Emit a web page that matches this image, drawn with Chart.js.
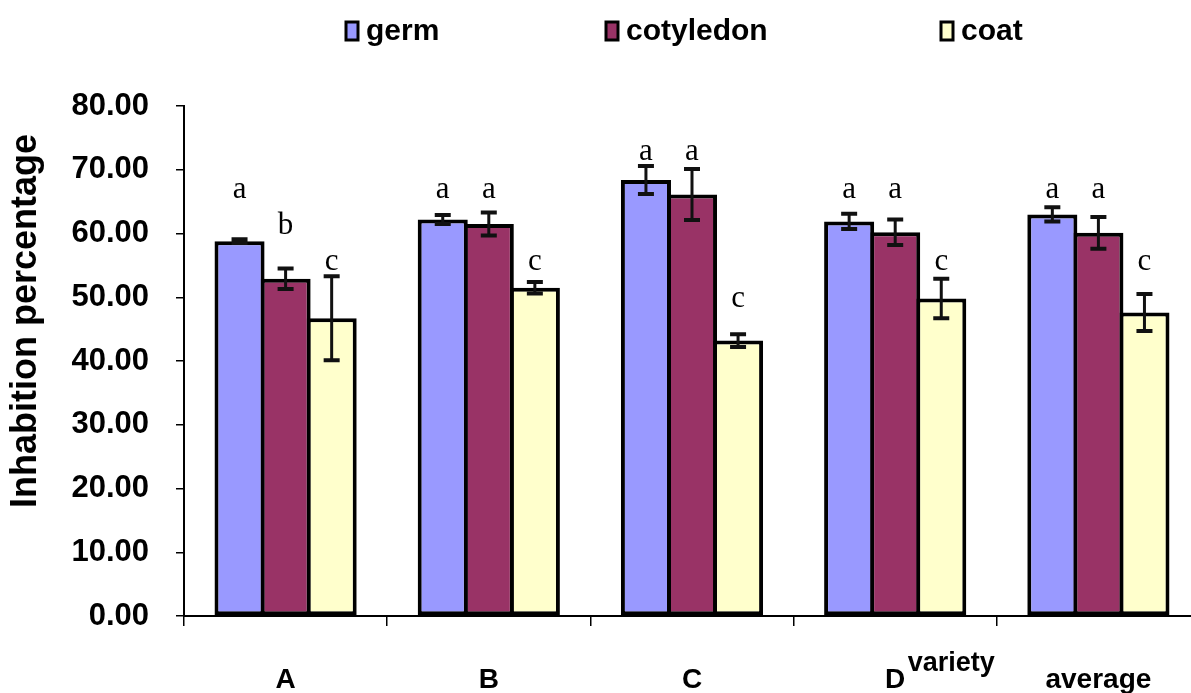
<!DOCTYPE html>
<html>
<head>
<meta charset="utf-8">
<script src="https://cdn.jsdelivr.net/npm/chart.js@4.4.1/dist/chart.umd.min.js"></script>
<style>
  html, body { margin: 0; padding: 0; background: #fff; overflow: hidden; }
  #wrap { width: 1200px; height: 693px; }
</style>
</head>
<body>
<div id="wrap"><canvas id="my-chart"></canvas></div>
<script>
'use strict';

/* DATA */
let varieties = ['A', 'B', 'C', 'D', 'average'];
let yTicks = [0, 10, 20, 30, 40, 50, 60, 70, 80];

let germ = [58.8, 62.2, 68.4, 61.9, 63.0];
let germErr = [0.3, 0.7, 2.2, 1.2, 1.1];
let cotyledon = [52.9, 61.5, 66.1, 60.2, 60.1];
let cotyledonErr = [1.6, 1.8, 4.0, 2.0, 2.5];
let coat = [46.7, 51.5, 43.2, 49.8, 47.6];
let coatErr = [6.6, 0.9, 1.0, 3.1, 2.9];

/* significance letters and the value level they sit at */
let germLetters = ['a', 'a', 'a', 'a', 'a'];
let cotyledonLetters = ['b', 'a', 'a', 'a', 'a'];
let coatLetters = ['c', 'c', 'c', 'c', 'c'];
let germLetterAt = [65.5, 65.5, 71.5, 65.5, 65.5];
let cotyledonLetterAt = [60.0, 65.5, 71.5, 65.5, 65.5];
let coatLetterAt = [54.3, 54.3, 48.5, 54.3, 54.3];

/* DOM */
let canvasElem = document.getElementById('my-chart').getContext('2d');

/* PLUGIN: error bars, letters, legend, titles */
let extrasPlugin = {
  id: 'extras',
  afterDatasetsDraw(chart) {
    let ctx = chart.ctx;
    let y = chart.scales.y;
    chart.data.datasets.forEach((ds, i) => {
      let meta = chart.getDatasetMeta(i);
      meta.data.forEach((bar, j) => {
        let v = ds.data[j];
        let e = ds.errors[j];
        let top = y.getPixelForValue(v + e);
        let bot = y.getPixelForValue(v - e);
        ctx.save();
        ctx.strokeStyle = '#111';
        ctx.lineWidth = 3;
        ctx.beginPath();
        ctx.moveTo(bar.x, top);
        ctx.lineTo(bar.x, bot);
        ctx.stroke();
        ctx.lineWidth = 4;
        ctx.beginPath();
        ctx.moveTo(bar.x - 8, top);
        ctx.lineTo(bar.x + 8, top);
        ctx.moveTo(bar.x - 8, bot);
        ctx.lineTo(bar.x + 8, bot);
        ctx.stroke();

        ctx.fillStyle = '#000';
        ctx.font = '31px "Liberation Serif"';
        ctx.textAlign = 'center';
        ctx.textBaseline = 'alphabetic';
        ctx.fillText(ds.letters[j], bar.x, y.getPixelForValue(ds.letterAt[j]));
        ctx.restore();
      });
    });
  },
  afterDraw(chart) {
    let ctx = chart.ctx;
    let area = chart.chartArea;
    let x = chart.scales.x;
    ctx.save();
    // legend
    let legendX = [346, 606, 941];
    ctx.font = 'bold 30px "Liberation Sans"';
    ctx.textBaseline = 'middle';
    ctx.textAlign = 'left';
    chart.data.datasets.forEach((ds, i) => {
      ctx.fillStyle = ds.backgroundColor;
      ctx.fillRect(legendX[i], 22, 12, 18);
      ctx.strokeStyle = '#000';
      ctx.lineWidth = 3;
      ctx.strokeRect(legendX[i], 22, 12, 18);
      ctx.fillStyle = '#000';
      ctx.fillText(ds.label, legendX[i] + 20, 32);
    });
    // y title
    ctx.translate(26, 321);
    ctx.rotate(-Math.PI / 2);
    ctx.textAlign = 'center';
    ctx.font = 'bold 36px "Liberation Sans"';
    ctx.fillText('Inhabition percentage', 0, 0);
    ctx.restore();
    // x title
    ctx.save();
    ctx.fillStyle = '#000';
    ctx.font = 'bold 27px "Liberation Sans"';
    ctx.textAlign = 'center';
    ctx.textBaseline = 'alphabetic';
    ctx.fillText('variety', x.getPixelForValue(3) + 56, area.bottom + 55);
    ctx.restore();
  }
};

/* CHART */
function renderChart() {
  Chart.defaults.font.family = '"Liberation Sans", Arial, sans-serif';
  Chart.defaults.color = '#000000';

  let common = {
    borderColor: '#000000',
    borderWidth: 4,
    borderSkipped: false,
    barPercentage: 1.087,
    categoryPercentage: 0.68,
  };

  let myChartObj = {
    type: 'bar',
    data: {
      labels: varieties,
      datasets: [
        Object.assign({ label: 'germ', data: germ, errors: germErr, letters: germLetters, letterAt: germLetterAt, backgroundColor: '#9999FF' }, common),
        Object.assign({ label: 'cotyledon', data: cotyledon, errors: cotyledonErr, letters: cotyledonLetters, letterAt: cotyledonLetterAt, backgroundColor: '#993366' }, common),
        Object.assign({ label: 'coat', data: coat, errors: coatErr, letters: coatLetters, letterAt: coatLetterAt, backgroundColor: '#FFFFCC' }, common),
      ],
    },
    options: {
      responsive: true,
      maintainAspectRatio: false,
      animation: false,
      layout: {
        padding: { top: 106, left: 0, right: 0, bottom: 0 },
      },
      plugins: {
        legend: { display: false },
        tooltip: { enabled: false },
      },
      scales: {
        x: {
          offset: true,
          grid: {
            offset: true,
            drawOnChartArea: false,
            tickLength: 10,
            color: '#000',
            lineWidth: 1.5,
          },
          border: { color: '#000', width: 2 },
          ticks: {
            font: { size: 28, weight: 'bold' },
            padding: 37,
            maxRotation: 0,
          },
          afterFit(scale) {
            scale.height = 77;
          },
        },
        y: {
          min: 0,
          max: 80,
          afterBuildTicks(scale) {
            scale.ticks = yTicks.map(v => ({ value: v }));
          },
          grid: {
            drawOnChartArea: false,
            tickLength: 8,
            color: '#000',
            lineWidth: 1.5,
          },
          border: { color: '#000', width: 2 },
          ticks: {
            font: { size: 31, weight: 'bold' },
            padding: 27,
            callback: v => v.toFixed(2),
          },
          afterFit(scale) {
            scale.width = 184;
          },
        },
      },
    },
    plugins: [extrasPlugin],
  };
  new Chart(canvasElem, myChartObj);
}
renderChart();
</script>
</body>
</html>
